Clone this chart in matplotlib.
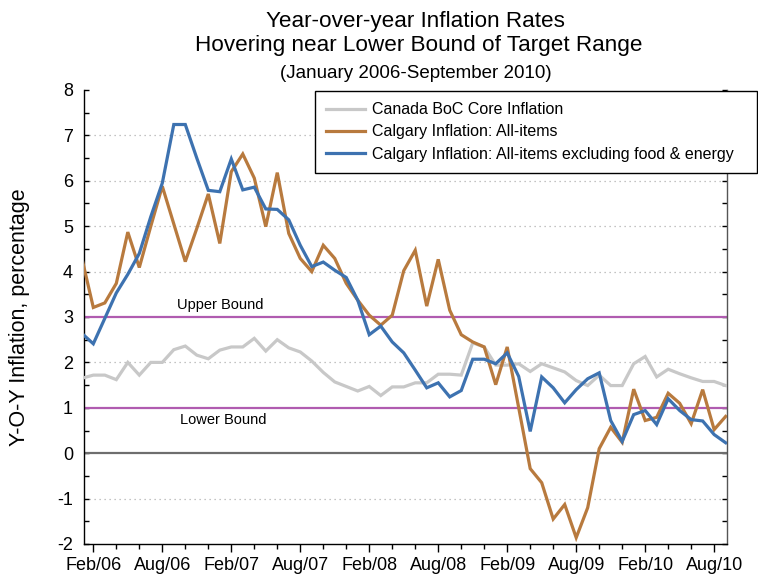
import matplotlib
matplotlib.use("Agg")
import matplotlib.pyplot as plt
from matplotlib.ticker import FixedLocator, MultipleLocator

plt.rcParams['font.family'] = ['Liberation Sans', 'DejaVu Sans']
plt.rcParams['axes.unicode_minus'] = False

# Monthly data Jan 2006 - Sep 2010
years = [2006, 2007, 2008, 2009, 2010]
mon_names = ['Jan', 'Feb', 'Mar', 'Apr', 'May', 'Jun', 'Jul', 'Aug', 'Sep', 'Oct', 'Nov', 'Dec']
months = [f"{m}/{str(y)[2:]}" for y in years for m in mon_names][:57]

canada_core = [1.65, 1.72, 1.72, 1.62, 2.00, 1.72, 2.00, 2.00, 2.28, 2.36, 2.16, 2.08,
               2.27, 2.34, 2.34, 2.53, 2.25, 2.50, 2.32, 2.23, 2.03, 1.78, 1.57, 1.47,
               1.37, 1.47, 1.27, 1.46, 1.46, 1.55, 1.55, 1.74, 1.74, 1.72, 2.43, 2.34,
               1.94, 1.94, 1.97, 1.80, 1.97, 1.88, 1.79, 1.60, 1.49, 1.72, 1.49, 1.49,
               1.97, 2.13, 1.68, 1.85, 1.75, 1.66, 1.58, 1.58, 1.49]

calgary_all = [4.30, 3.21, 3.31, 3.74, 4.87, 4.09, 5.00, 5.88, 5.05, 4.22, 4.95, 5.71,
               4.62, 6.20, 6.59, 6.06, 4.99, 6.18, 4.84, 4.29, 4.00, 4.58, 4.29, 3.74,
               3.37, 3.04, 2.82, 3.04, 4.02, 4.47, 3.24, 4.27, 3.15, 2.61, 2.45, 2.34,
               1.51, 2.34, 1.00, -0.34, -0.65, -1.45, -1.13, -1.86, -1.20, 0.10, 0.57, 0.24,
               1.41, 0.72, 0.79, 1.32, 1.10, 0.65, 1.40, 0.52, 0.81]

calgary_core = [2.64, 2.41, 2.97, 3.53, 3.94, 4.40, 5.21, 5.95, 7.24, 7.24, 6.50, 5.79,
                5.76, 6.48, 5.80, 5.86, 5.38, 5.37, 5.14, 4.58, 4.11, 4.21, 4.03, 3.87,
                3.37, 2.61, 2.80, 2.45, 2.21, 1.83, 1.44, 1.55, 1.24, 1.38, 2.07, 2.07,
                1.97, 2.21, 1.69, 0.48, 1.68, 1.44, 1.11, 1.40, 1.64, 1.77, 0.72, 0.26,
                0.85, 0.94, 0.63, 1.20, 0.94, 0.74, 0.71, 0.41, 0.23]

upper_bound = 3
lower_bound = 1

x = list(range(len(months)))

fig = plt.figure(figsize=(7.58, 5.76), dpi=100)
ax = fig.add_axes([84/758, 1-544/576, (726.7-84)/758, (544-90)/576])

# grid & reference lines
for g in [-1, 2, 4, 5, 6, 7]:
    ax.axhline(g, color='#b0b0b0', lw=0.9, ls=(0, (1, 3)), zorder=1)
ax.axhline(0, color='#6e6e6e', lw=1.6, zorder=2)
ax.axhline(upper_bound, color='#b05cb0', lw=1.6, zorder=2)
ax.axhline(lower_bound, color='#b05cb0', lw=1.6, zorder=2)

ax.plot(x, canada_core, color='#c8c8c8', lw=2.3, label='Canada BoC Core Inflation', zorder=3,
        solid_joinstyle='miter')
ax.plot(x, calgary_all, color='#b87a3e', lw=2.3, label='Calgary Inflation: All-items', zorder=4,
        solid_joinstyle='miter')
ax.plot(x, calgary_core, color='#3d72b0', lw=2.3,
        label='Calgary Inflation: All-items excluding food & energy', zorder=5,
        solid_joinstyle='miter')

ax.text(12.0, 3.1, 'Upper Bound', ha='center', va='bottom', fontsize=10.5)
ax.text(12.3, 0.88, 'Lower Bound', ha='center', va='top', fontsize=10.5)

ax.set_xlim(0.19, 56.09)
ax.set_ylim(-2, 8)

# x ticks
major_idx = list(range(1, 57, 6))
ax.xaxis.set_major_locator(FixedLocator(major_idx))
ax.set_xticklabels([months[i] for i in major_idx], fontsize=13)
ax.xaxis.set_minor_locator(FixedLocator(list(range(1, 57, 2))))
ax.tick_params(axis='x', which='major', direction='out', length=6, width=1, pad=3)
ax.tick_params(axis='x', which='minor', direction='out', length=3.5, width=1)

# y ticks
ax.yaxis.set_major_locator(MultipleLocator(1))
ax.yaxis.set_minor_locator(MultipleLocator(0.5))
ax.tick_params(axis='y', which='both', direction='in', length=3.5, width=1,
               labelsize=13, right=True, pad=8)

for s in ['left', 'bottom', 'right']:
    ax.spines[s].set_color('black')
    ax.spines[s].set_linewidth(1.0)
ax.spines['top'].set_visible(False)
ax.spines['right'].set_color('#555555')

ax.set_ylabel('Y-O-Y Inflation, percentage', fontsize=15.5)
ax.yaxis.set_label_coords(-0.084, 0.5)

fig.text(0.548, 1-21/576, 'Year-over-year Inflation Rates', ha='center', va='center', fontsize=16.2)
fig.text(0.553, 1-46/576, 'Hovering near Lower Bound of Target Range', ha='center', va='center', fontsize=16.2)
fig.text(0.548, 1-73/576, '(January 2006-September 2010)', ha='center', va='center', fontsize=13.5)

leg = ax.legend(loc='upper left', bbox_to_anchor=(315/758, 1-174/576, 442/758, 83/576),
                bbox_transform=fig.transFigure, mode='expand', borderaxespad=0,
                fontsize=11.5, frameon=True, fancybox=False, handlelength=2.4,
                handletextpad=0.5, labelspacing=0.45, borderpad=0.7, framealpha=1)
leg.get_frame().set_edgecolor('black')
leg.get_frame().set_linewidth(1.0)
leg.set_zorder(10)

fig.savefig('out.png', dpi=100)
